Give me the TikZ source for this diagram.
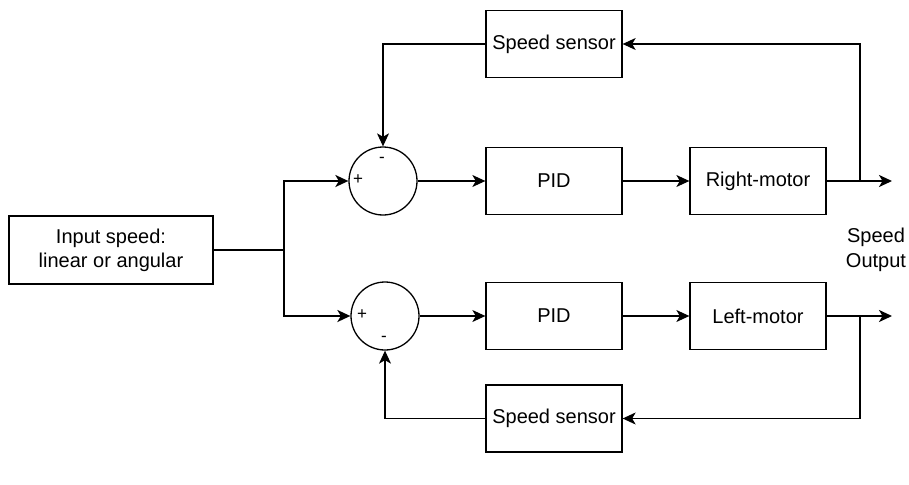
\documentclass[tikz,border=0pt]{standalone}
\usepackage{fontspec}
\setmainfont{Liberation Sans}
\usetikzlibrary{arrows.meta}
\begin{document}
\begin{tikzpicture}[x=1pt,y=-1pt,
  blk/.style={draw,line width=1.3pt,minimum width=136pt,minimum height=67pt,inner sep=0pt,font=\fontsize{20}{24}\selectfont,align=center},
  sumc/.style={draw,circle,line width=1.3pt,minimum size=68pt,inner sep=0pt},
  thin/.style={line width=1.1pt},
  thick/.style={line width=2pt},
  arr/.style={-{Stealth[length=13pt,width=12pt,inset=3.5pt]}},
  sgn/.style={font=\fontsize{17}{19}\selectfont,inner sep=0pt}]
\useasboundingbox (0,0) rectangle (909,484);
\node[blk,minimum width=204pt,minimum height=68pt] (in) at (111,250) {Input speed:\\linear or angular};
\node[sumc] (s1) at (383,181) {};
\node[sumc] (s2) at (385,316) {};
\node[blk] (pid1) at (554,181) {PID};
\node[blk] (pid2) at (554,316) {PID};
\node[blk] (rm) at (758,181) {Right-motor};
\node[blk] (lm) at (758,316) {Left-motor};
\node[blk] (ss1) at (554,44) {Speed sensor};
\node[blk] (ss2) at (554,418.5) {Speed sensor};
\node[font=\fontsize{20}{25}\selectfont,align=center] (out) at (876,250) {Speed\\Output};
\node[sgn] (p1) at (358,180) {+};
\node[sgn] (m1) at (382,160) {-};
\node[sgn] (p2) at (362,315) {+};
\node[sgn] (m2) at (384,339) {-};
\coordinate (br) at (284,250);
\coordinate (o1) at (892,181);
\coordinate (o2) at (892,316);
\coordinate (t1) at (860,181);
\coordinate (t2) at (860,316);
% input branches
\draw[thin] (in.east) -- (br);
\draw[thick,arr] (br) |- (s1.west);
\draw[thick,arr] (br) |- (s2.west);
% forward path
\draw[thin,arr] (s1.east) -- (pid1.west);
\draw[thin,arr] (s2.east) -- (pid2.west);
\draw[thin,arr] (pid1.east) -- (rm.west);
\draw[thin,arr] (pid2.east) -- (lm.west);
\draw[thick,arr] (rm.east) -- (o1);
\draw[thick,arr] (lm.east) -- (o2);
% feedback
\draw[thin,arr] (t1) |- (ss1.east);
\draw[thin,arr] (t2) |- (ss2.east);
\draw[thin,arr] (ss1.west) -| (s1.north);
\draw[thin,arr] (ss2.west) -| (s2.south);
\end{tikzpicture}
\end{document}
